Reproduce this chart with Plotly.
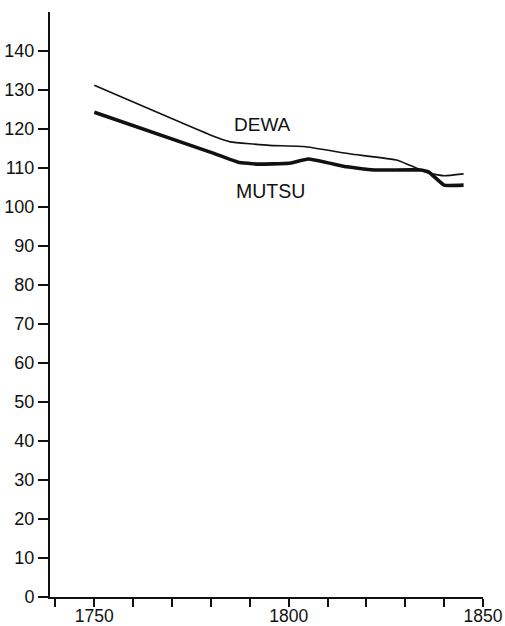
import plotly.graph_objects as go

dewa_years = [1750, 1780, 1785, 1795, 1804, 1816, 1828, 1836, 1840, 1845]
dewa_vals = [131.2, 118.4, 116.7, 115.8, 115.5, 113.6, 112.0, 108.7, 108.0, 108.5]

mutsu_years = [1750, 1780, 1787, 1792, 1800, 1805, 1815, 1822, 1834, 1836, 1840, 1845]
mutsu_vals = [124.3, 114.0, 111.5, 111.0, 111.2, 112.3, 110.3, 109.5, 109.5, 109.0, 105.6, 105.6]

y_ticks = list(range(0, 150, 10))
x_ticks = [1750, 1800, 1850]

FONT = "Liberation Sans, Arial, sans-serif"

fig = go.Figure()
fig.add_trace(go.Scatter(x=dewa_years, y=dewa_vals, mode="lines",
                         line=dict(color="#111", width=1.6, shape="spline", smoothing=0.3),
                         name="DEWA", showlegend=False))
fig.add_trace(go.Scatter(x=mutsu_years, y=mutsu_vals, mode="lines",
                         line=dict(color="#111", width=3.6, shape="spline", smoothing=0.3),
                         name="MUTSU", showlegend=False))

fig.add_annotation(x=1793.3, y=121.2, text="DEWA", showarrow=False,
                   font=dict(family=FONT, size=19, color="#111"))
fig.add_annotation(x=1795.4, y=104.2, text="MUTSU", showarrow=False,
                   font=dict(family=FONT, size=19.5, color="#111"))

fig.update_layout(
    width=505, height=626,
    margin=dict(l=50, r=22, t=12, b=29),
    paper_bgcolor="white", plot_bgcolor="white",
    font=dict(family=FONT, size=18, color="#111"),
)
fig.update_xaxes(range=[1738.6, 1850], tickvals=x_ticks, ticks="outside", ticklen=8,
                 tickwidth=1.6, tickcolor="#111", automargin=False, ticklabelstandoff=-6,
                 tickfont=dict(size=17.5),
                 minor=dict(dtick=10, tick0=1750, ticks="outside", ticklen=8, tickwidth=1.6, tickcolor="#111"),
                 showline=True, linecolor="#111", linewidth=2, showgrid=False, zeroline=False)
fig.update_yaxes(range=[0, 150], tickvals=y_ticks, ticks="outside", ticklen=10,
                 tickwidth=1.6, tickcolor="#111", automargin=False,
                 showline=True, linecolor="#111", linewidth=2, showgrid=False, zeroline=False)

fig.write_html("out.html", config={"displayModeBar": False},
               post_script="document.body.style.margin='0';")
